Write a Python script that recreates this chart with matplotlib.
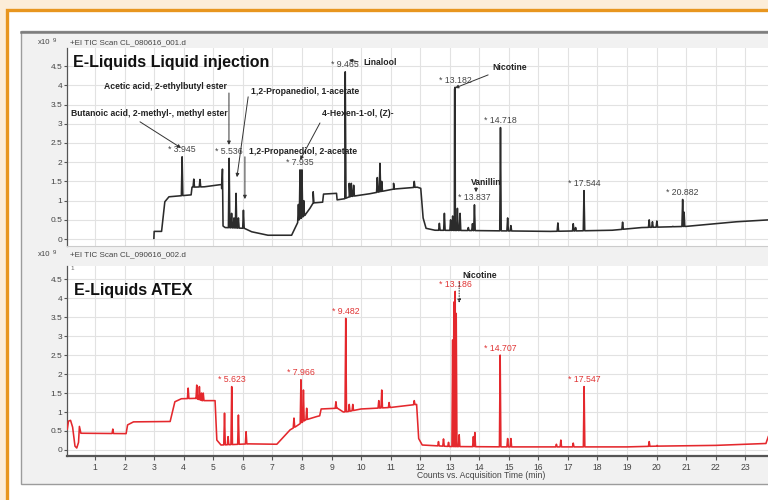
import matplotlib
matplotlib.use("Agg")
import matplotlib.pyplot as plt
import matplotlib.ticker as mtick
from matplotlib.patches import Rectangle
import numpy as np

plt.rcParams["font.family"] = ["Liberation Sans", "DejaVu Sans"]

W, H = 768, 500

# Liquid injection run: baseline breakpoints (min, counts x1e9)
lq_base_t = [2.99, 3.00, 3.25, 3.36, 3.50, 3.80, 4.25, 4.28, 4.70, 5.28,
             5.33, 5.40, 6.05, 6.30, 6.85, 7.65, 7.90, 8.10, 8.27, 8.38,
             8.70, 8.73, 9.17, 9.19, 9.45, 9.60, 10.30, 11.10, 11.90, 12.02,
             12.10, 12.20, 12.50, 14.00, 16.40, 18.50, 19.50, 21.00, 22.70, 23.80]
lq_base_v = [0.02, 0.20, 0.20, 0.97, 1.10, 1.12, 1.15, 1.35, 1.36, 1.42,
             0.34, 0.30, 0.28, 0.19, 0.10, 0.10, 0.50, 0.62, 0.80, 0.94,
             0.96, 1.17, 1.19, 1.02, 1.05, 1.10, 1.18, 1.30, 1.35, 1.32,
             0.55, 0.28, 0.23, 0.22, 0.20, 0.23, 0.30, 0.33, 0.45, 0.50]
lq_peak_t = [3.945, 4.34, 4.55, 5.31, 5.536, 5.62, 5.70, 5.77, 5.85, 6.02,
             7.88, 7.935, 8.00, 8.06, 8.38, 9.465, 9.60, 9.67, 9.75, 10.55,
             10.64, 10.70, 11.10, 11.80, 12.65, 12.82, 13.03, 13.10, 13.165, 13.182,
             13.26, 13.35, 13.63, 13.77, 13.837, 14.718, 14.96, 15.07, 16.66, 17.18,
             17.26, 17.544, 18.85, 19.75, 19.86, 20.01, 20.55, 20.882, 20.93]
lq_peak_h = [2.14, 1.56, 1.55, 1.82, 2.10, 0.67, 0.55, 1.19, 0.55, 0.75,
             0.90, 1.80, 1.80, 1.00, 1.23, 4.35, 1.45, 1.45, 1.40, 1.60,
             1.97, 1.50, 1.45, 1.50, 0.41, 0.67, 0.50, 0.60, 3.90, 3.95,
             0.80, 0.67, 0.30, 0.40, 0.89, 2.90, 0.55, 0.35, 0.42, 0.40,
             0.30, 1.26, 0.44, 0.50, 0.45, 0.47, 0.33, 1.03, 0.70]
lq_labelled = [3.945, 5.536, 7.935, 9.465, 13.182, 13.837, 14.718, 17.544, 20.882]

# ATEX run
at_base_t = [0.06, 0.10, 0.17, 0.24, 0.32, 0.38, 0.44, 0.47, 0.52, 2.05,
             2.10, 2.30, 3.54, 3.70, 3.92, 4.40, 4.62, 5.06, 5.12, 5.26,
             6.20, 7.15, 7.60, 7.80, 8.12, 8.50, 8.60, 8.65, 9.20, 9.40,
             9.55, 10.00, 11.00, 11.76, 11.88, 11.95, 12.07, 13.00, 15.00, 19.00,
             20.00, 22.00, 23.70, 23.78]
at_base_v = [0.55, 0.76, 0.78, 0.60, 0.10, 0.05, 0.20, 0.62, 0.44, 0.43,
             0.66, 0.74, 0.75, 1.27, 1.35, 1.36, 1.30, 1.30, 0.26, 0.13,
             0.16, 0.15, 0.53, 0.62, 0.79, 0.88, 0.90, 1.08, 1.10, 1.00,
             1.01, 1.08, 1.12, 1.19, 1.20, 0.30, 0.13, 0.09, 0.08, 0.08,
             0.10, 0.12, 0.17, 0.35]
at_peak_t = [1.60, 4.15, 4.44, 4.53, 4.60, 4.66, 5.38, 5.50, 5.623, 5.85,
             6.11, 7.73, 7.966, 8.05, 8.16, 9.15, 9.482, 9.60, 9.72, 10.60,
             10.70, 10.95, 11.80, 12.62, 12.79, 12.96, 13.10, 13.14, 13.186, 13.22,
             13.32, 13.80, 13.85, 14.707, 14.96, 15.07, 16.61, 16.76, 17.18, 17.547,
             19.75, 20.02]
at_peak_h = [0.55, 1.63, 1.71, 1.67, 1.50, 1.50, 0.97, 0.35, 1.67, 0.92,
             0.48, 0.84, 1.85, 1.58, 1.10, 1.27, 3.47, 1.20, 1.20, 1.30,
             1.58, 1.25, 1.30, 0.22, 0.29, 0.20, 2.90, 3.90, 4.18, 3.60,
             0.40, 0.35, 0.46, 2.50, 0.30, 0.30, 0.15, 0.26, 0.18, 1.67,
             0.22, 0.12]
at_labelled = [5.623, 7.966, 9.482, 13.186, 14.707, 17.547]

minute_ticks = list(range(1, 24))
count_ticks = [0, 0.5, 1, 1.5, 2, 2.5, 3, 3.5, 4, 4.5]

# compound names: (text, text pos, arrow start, arrow end) in data units
lq_compounds = [
    ("Butanoic acid, 2-methyl-, methyl ester", (2.83, 3.26), (2.52, 3.05), (3.91, 2.37)),
    ("Acetic acid, 2-ethylbutyl ester", (3.38, 3.98), (5.53, 3.80), (5.53, 2.45)),
    ("1,2-Propanediol, 1-acetate", (8.12, 3.85), (6.18, 3.70), (5.80, 1.61)),
    ("1,2-Propanediol, 2-acetate", (8.05, 2.27), (6.07, 2.14), (6.07, 1.04)),
    ("4-Hexen-1-ol, (Z)-", (9.88, 3.26), (8.61, 3.02), (7.94, 2.06)),
    ("Linalool", (10.64, 4.58), (9.90, 4.61), (9.59, 4.66)),
    ("Nicotine", (15.03, 4.45), (14.30, 4.27), (13.18, 3.93)),
    ("Vanillin", (14.23, 1.46), (13.89, 1.34), (13.89, 1.22)),
]


def fx(x):
    return x / W


def fy(y):
    return 1 - y / H


def trace(base_t, base_v, peak_t, peak_h, half=0.025):
    xs = list(base_t)
    ys = list(base_v)
    for rt, h in zip(peak_t, peak_h):
        lo, hi = np.interp([rt - half, rt + half], base_t, base_v)
        xs += [rt - half, rt, rt + half]
        ys += [lo, h, hi]
    order = np.argsort(xs, kind="stable")
    return np.array(xs)[order], np.array(ys)[order]


fig = plt.figure(figsize=(W / 100, H / 100), dpi=100)
fig.patch.set_facecolor("#fcedd8")

# page frame and instrument window
fig.add_artist(Rectangle((fx(7), fy(560)), fx(800), 550 / H, transform=fig.transFigure,
                         facecolor="white", edgecolor="#e8961f", lw=2.4, zorder=-10))
fig.add_artist(Rectangle((fx(21), fy(484)), fx(800), 453 / H, transform=fig.transFigure,
                         facecolor="#f1f1f1", edgecolor="#9c9c9c", lw=1.0, zorder=-9))
fig.add_artist(plt.Line2D([fx(21), 1.0], [fy(31.5), fy(31.5)], transform=fig.transFigure,
                          color="#7d7d7d", lw=1.8, zorder=-8))

ax1 = fig.add_axes([fx(67), fy(246), fx(W - 67), 198 / H])
ax2 = fig.add_axes([fx(67), fy(456), fx(W - 67), 190 / H])

for ax, ylim in ((ax1, (-0.18, 4.97)), (ax2, (-0.16, 4.85))):
    ax.set_facecolor("white")
    ax.set_xlim(0.05, 23.77)
    ax.set_ylim(*ylim)
    ax.set_xticks(minute_ticks)
    ax.set_yticks(count_ticks)
    ax.yaxis.set_major_formatter(mtick.FormatStrFormatter("%g"))
    ax.grid(color="#e2e2e2", lw=0.8)
    ax.set_axisbelow(True)
    for side in ("top", "right"):
        ax.spines[side].set_visible(False)
    ax.spines["left"].set_color("#555555")
    ax.spines["left"].set_linewidth(0.9)
    ax.tick_params(axis="y", length=2.5, width=0.8, colors="#555555",
                   labelcolor="#444444", labelsize=6, pad=1)

ax1.spines["bottom"].set_color("#cccccc")
ax1.tick_params(axis="x", length=0, labelbottom=False)
ax2.spines["bottom"].set_color("#555555")
ax2.spines["bottom"].set_linewidth(1.6)
ax2.tick_params(axis="x", length=3, width=0.8, colors="#555555",
                labelcolor="#444444", labelsize=6.2, pad=2)

# chromatograms
tx, ty = trace(lq_base_t, lq_base_v, lq_peak_t, lq_peak_h)
ax1.plot(tx, ty, color="#2b2b2b", lw=1.15, zorder=3)
tx, ty = trace(at_base_t, at_base_v, at_peak_t, at_peak_h)
ax2.plot(tx, ty, color="#e4282d", lw=1.15, zorder=3)

# retention time labels
for rt in lq_labelled:
    h = lq_peak_h[lq_peak_t.index(rt)]
    ax1.annotate(f"* {rt:.3f}", (rt, h), xytext=(0, 5), textcoords="offset points",
                 ha="center", va="center", fontsize=6.3, color="#444444", zorder=4)
for rt in at_labelled:
    h = at_peak_h[at_peak_t.index(rt)]
    ax2.annotate(f"* {rt:.3f}", (rt, h), xytext=(0, 5), textcoords="offset points",
                 ha="center", va="center", fontsize=6.3, color="#e03535", zorder=4)

# compound identifications
arrow = dict(arrowstyle="-|>", lw=0.7, color="#333333", mutation_scale=5,
             shrinkA=0, shrinkB=0)
for name, pos, start, end in lq_compounds:
    ax1.text(pos[0], pos[1], name, ha="center", va="center", fontsize=6.2,
             fontweight="bold", color="#222222", zorder=5)
    ax1.annotate("", xy=end, xytext=start, arrowprops=arrow, zorder=5)

ax2.text(14.03, 4.59, "Nicotine", ha="center", va="center", fontsize=6.2,
         fontweight="bold", color="#222222", zorder=5)
ax2.annotate("", xy=(13.32, 3.88), xytext=(13.32, 4.41), zorder=5,
             arrowprops=dict(arrowstyle="-|>", lw=0.7, ls=":", color="#333333",
                             mutation_scale=5, shrinkA=0, shrinkB=0))

# panel titles and headers
fig.text(fx(73), fy(63), "E-Liquids Liquid injection", fontsize=11.5,
         fontweight="bold", va="center", color="#111111")
fig.text(fx(74), fy(290), "E-Liquids ATEX", fontsize=11.5,
         fontweight="bold", va="center", color="#111111")

for y, name in ((43, "+EI TIC Scan CL_080616_001.d"), (255, "+EI TIC Scan CL_090616_002.d")):
    fig.text(fx(38), fy(y), "x10", fontsize=5.6, va="center", color="#444444")
    fig.text(fx(53), fy(y - 3), "9", fontsize=4.4, va="center", color="#444444")
    fig.text(fx(70), fy(y), name, fontsize=5.8, va="center", color="#444444")

fig.text(fx(70), fy(268), "1", fontsize=4.5, va="center", color="#666666")
fig.text(fx(481), fy(475), "Counts vs. Acquisition Time (min)", fontsize=6.2,
         ha="center", va="center", color="#444444")

plt.savefig("out.png", dpi=100, facecolor=fig.get_facecolor())
